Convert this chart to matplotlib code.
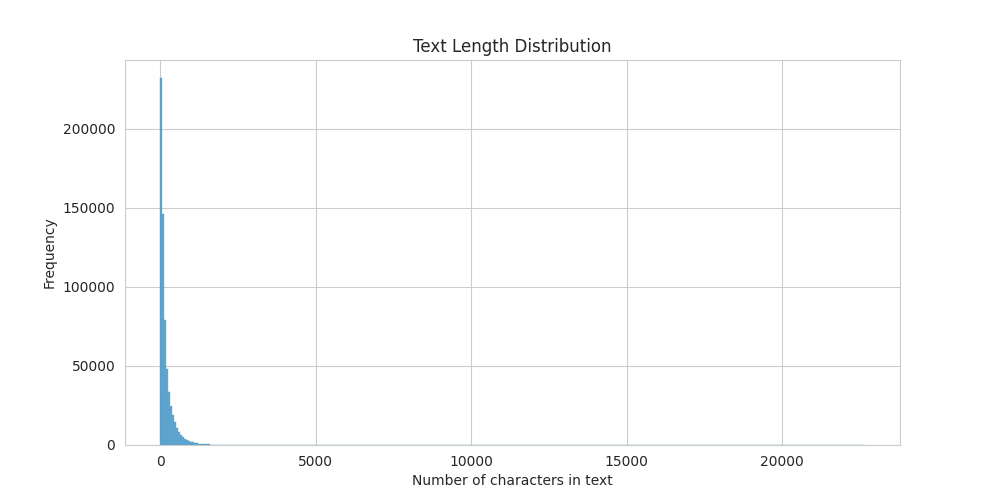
import matplotlib
matplotlib.use("Agg")
import matplotlib.pyplot as plt
import seaborn as sns
import numpy as np

sns.set_style("whitegrid")

bin_width = 64
# counts for the first bins, the rest of the long tail are tiny
head_counts = [232000, 146000, 79000, 48000, 33500, 24700, 19000, 14600, 11000, 8500,
               6500, 5000, 4000, 3200, 2600, 2100, 1700, 1400, 1100, 900,
               750, 620, 520, 430, 360, 300, 250, 200, 160, 130]
tail_counts = [100, 80, 60, 45, 35, 25, 20, 15, 10, 8, 6, 5, 4, 3, 2, 2, 1, 1, 1, 1]
n_bins = 354
counts = np.zeros(n_bins)
counts[:len(head_counts)] = head_counts
counts[len(head_counts):len(head_counts) + len(tail_counts)] = tail_counts
counts[-1] = 1
edges = np.arange(n_bins + 1) * bin_width

fig, ax = plt.subplots(figsize=(10, 5), dpi=100)
ax.hist(edges[:-1], bins=edges, weights=counts, color="#4c9ac9", alpha=0.85,
        edgecolor="#4c9ac9", linewidth=0.3)
ax.margins(x=0.05)
ax.set_title("Text Length Distribution")
ax.set_xlabel("Number of characters in text")
ax.set_ylabel("Frequency")
plt.savefig("out.png")
